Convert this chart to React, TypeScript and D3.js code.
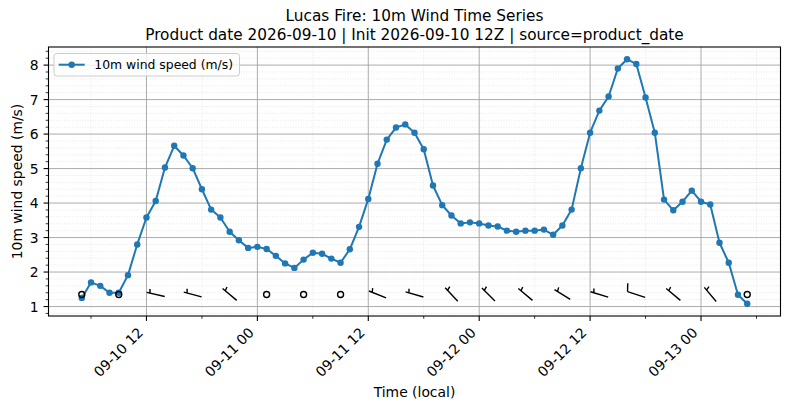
import React, { useEffect, useRef } from 'react';
import * as d3 from 'd3';

// hourly 10m wind speed (m/s), first value at 2026-09-10 05:00 local
const startTime = new Date(2026, 8, 10, 5);
const windSpeed = [
  1.25, 1.70, 1.60, 1.40, 1.40, 1.91, 2.80, 3.58, 4.06, 5.03, 5.66, 5.38, 5.01,
  4.40, 3.81, 3.58, 3.17, 2.92, 2.70, 2.73, 2.67, 2.47, 2.25, 2.12, 2.36, 2.56,
  2.53, 2.39, 2.27, 2.66, 3.31, 4.12, 5.14, 5.84, 6.19, 6.28, 6.04, 5.56, 4.51,
  3.94, 3.64, 3.41, 3.44, 3.41, 3.35, 3.32, 3.20, 3.17, 3.20, 3.20, 3.23, 3.08,
  3.35, 3.81, 5.01, 6.04, 6.68, 7.09, 7.90, 8.17, 8.03, 7.06, 6.04, 4.10, 3.79,
  4.04, 4.36, 4.04, 3.96, 2.85, 2.27, 1.34, 1.08,
];

// barbs every 4 hours from the first sample; direction wind comes from (deg)
const barbStep = 4;
const barbDirection = [
  280, 280, 283, 285, 310, 280, 280, 280, 292, 286, 317, 315, 310, 302, 287,
  288, 310, 320, 280,
];
const barbLevel = 1.35;

const yTicks = [1, 2, 3, 4, 5, 6, 7, 8];
const titleLines = [
  'Lucas Fire: 10m Wind Time Series',
  'Product date 2026-09-10 | Init 2026-09-10 12Z | source=product_date',
];
const seriesLabel = '10m wind speed (m/s)';
const xLabel = 'Time (local)';
const yLabel = '10m wind speed (m/s)';

const W = 790;
const H = 409;
const FONT = 'DejaVu Sans';
const BLUE = '#1f77b4';

const App: React.FC = () => {
  const svgRef = useRef<SVGSVGElement>(null);

  useEffect(() => {
    if (!svgRef.current) return;
    const svg = d3.select(svgRef.current);
    svg.selectAll('*').remove();

    const left = 48.5, right = 780.5, top = 47, bottom = 316;
    const times = windSpeed.map((_, i) => d3.timeHour.offset(startTime, i));
    const t0 = times[0], t1 = times[times.length - 1];
    const padMs = (+t1 - +t0) * 0.05;

    const x = d3.scaleTime()
      .domain([new Date(+t0 - padMs), new Date(+t1 + padMs)])
      .range([left, right]);

    const yMin = Math.min(d3.min(windSpeed) || 0, barbLevel);
    const yMax = d3.max(windSpeed) || 0;
    const yPad = (yMax - yMin) * 0.05;
    const y = d3.scaleLinear()
      .domain([yMin - yPad, yMax + yPad])
      .range([bottom, top]);

    const g = svg.append('g');

    // grid: minor dotted, major solid
    const majorT = d3.timeHour.every(12)!.range(x.domain()[0], x.domain()[1]);
    const minorT = d3.timeHour.every(6)!.range(x.domain()[0], x.domain()[1])
      .filter(d => d.getHours() % 12 !== 0);
    const minorY = d3.range(Math.ceil(y.domain()[0] / 0.2), Math.floor(y.domain()[1] / 0.2) + 1)
      .map(k => +(k * 0.2).toFixed(1))
      .filter(v => Math.abs(v - Math.round(v)) > 1e-6);

    g.selectAll('.minor-gy').data(minorY).enter().append('line')
      .attr('x1', left).attr('x2', right)
      .attr('y1', d => y(d)).attr('y2', d => y(d))
      .attr('stroke', '#d9d9d9').attr('stroke-width', 0.6).attr('stroke-dasharray', '1,1.6');
    g.selectAll('.minor-gx').data(minorT).enter().append('line')
      .attr('x1', d => x(d)).attr('x2', d => x(d))
      .attr('y1', top).attr('y2', bottom)
      .attr('stroke', '#d9d9d9').attr('stroke-width', 0.6).attr('stroke-dasharray', '1,1.6');
    g.selectAll('.major-gy').data(yTicks).enter().append('line')
      .attr('x1', left).attr('x2', right)
      .attr('y1', d => y(d)).attr('y2', d => y(d))
      .attr('stroke', '#a3a3a3').attr('stroke-width', 0.9);
    g.selectAll('.major-gx').data(majorT).enter().append('line')
      .attr('x1', d => x(d)).attr('x2', d => x(d))
      .attr('y1', top).attr('y2', bottom)
      .attr('stroke', '#a3a3a3').attr('stroke-width', 0.9);

    // speed line + markers
    const line = d3.line<number>()
      .x((_, i) => x(times[i]))
      .y(d => y(d));
    g.append('path')
      .datum(windSpeed)
      .attr('d', line)
      .attr('fill', 'none')
      .attr('stroke', BLUE)
      .attr('stroke-width', 2)
      .attr('stroke-linejoin', 'round');
    g.selectAll('.pt').data(windSpeed).enter().append('circle')
      .attr('cx', (_, i) => x(times[i]))
      .attr('cy', d => y(d))
      .attr('r', 3.2)
      .attr('fill', BLUE);

    // wind barbs (matplotlib style: half barb set in from the end, full barb at the end)
    const L = 18.5;
    barbDirection.forEach((dir, k) => {
      const idx = k * barbStep;
      const spd = windSpeed[idx];
      const cx = x(times[idx]);
      const cy = y(barbLevel);
      if (spd < 3) {
        g.append('circle').attr('cx', cx).attr('cy', cy).attr('r', 3)
          .attr('fill', 'none').attr('stroke', 'black').attr('stroke-width', 1.4);
        return;
      }
      const rad = (dir * Math.PI) / 180;
      const sx = Math.sin(rad), sy = -Math.cos(rad);
      const px = -sy, py = sx;
      const ex = cx + sx * L / 2, ey = cy + sy * L / 2;
      const bx = cx - sx * L / 2, by = cy - sy * L / 2;
      const full = spd >= 7.5;
      const inset = full ? 0 : L * 0.19;
      const hLen = full ? L * 0.43 : L * 0.22;
      const slant = full ? L * 0.125 : L * 0.0625;
      const ox = ex - sx * inset, oy = ey - sy * inset;
      const path = d3.path();
      path.moveTo(bx, by);
      path.lineTo(ex, ey);
      path.moveTo(ox, oy);
      path.lineTo(ox + px * hLen + sx * slant, oy + py * hLen + sy * slant);
      g.append('path').attr('d', path.toString())
        .attr('fill', 'none').attr('stroke', 'black').attr('stroke-width', 1.4)
        .attr('stroke-linecap', 'butt');
    });

    // spines
    g.append('rect')
      .attr('x', left).attr('y', top)
      .attr('width', right - left).attr('height', bottom - top)
      .attr('fill', 'none').attr('stroke', 'black').attr('stroke-width', 1.1);

    // y ticks
    g.selectAll('.ytk').data(yTicks).enter().append('line')
      .attr('x1', left - 4.9).attr('x2', left)
      .attr('y1', d => y(d)).attr('y2', d => y(d))
      .attr('stroke', 'black').attr('stroke-width', 1.1);
    g.selectAll('.ytkm').data(minorY).enter().append('line')
      .attr('x1', left - 2.8).attr('x2', left)
      .attr('y1', d => y(d)).attr('y2', d => y(d))
      .attr('stroke', 'black').attr('stroke-width', 0.8);
    g.selectAll('.ytl').data(yTicks).enter().append('text')
      .attr('x', left - 9.8).attr('y', d => y(d) + 5)
      .attr('text-anchor', 'end')
      .attr('font-family', FONT).attr('font-size', 13.9)
      .text(d => String(d));

    // x ticks
    const fmt = d3.timeFormat('%m-%d %H');
    g.selectAll('.xtk').data(majorT).enter().append('line')
      .attr('x1', d => x(d)).attr('x2', d => x(d))
      .attr('y1', bottom).attr('y2', bottom + 4.9)
      .attr('stroke', 'black').attr('stroke-width', 1.1);
    g.selectAll('.xtkm').data(minorT).enter().append('line')
      .attr('x1', d => x(d)).attr('x2', d => x(d))
      .attr('y1', bottom).attr('y2', bottom + 2.8)
      .attr('stroke', 'black').attr('stroke-width', 0.8);
    g.selectAll('.xtl').data(majorT).enter().append('text')
      .attr('transform', d => `translate(${x(d) - 2.5},${bottom + 17.5}) rotate(-45)`)
      .attr('text-anchor', 'end')
      .attr('font-family', FONT).attr('font-size', 13.9)
      .text(d => fmt(d));

    // axis labels
    g.append('text')
      .attr('x', (left + right) / 2).attr('y', 397)
      .attr('text-anchor', 'middle')
      .attr('font-family', FONT).attr('font-size', 13.9)
      .text(xLabel);
    g.append('text')
      .attr('transform', `translate(22,${(top + bottom) / 2}) rotate(-90)`)
      .attr('text-anchor', 'middle')
      .attr('font-family', FONT).attr('font-size', 13.9)
      .text(yLabel);

    // title
    g.selectAll('.ttl').data(titleLines).enter().append('text')
      .attr('x', (left + right) / 2)
      .attr('y', (_, i) => 21 + i * 19)
      .attr('text-anchor', 'middle')
      .attr('font-family', FONT).attr('font-size', 15.3)
      .text(d => d);

    // legend
    const lg = g.append('g');
    lg.append('rect')
      .attr('x', 54).attr('y', 53.5).attr('width', 185.5).attr('height', 22.5)
      .attr('rx', 2.8)
      .attr('fill', 'white').attr('fill-opacity', 0.8)
      .attr('stroke', '#cccccc').attr('stroke-width', 1);
    lg.append('line')
      .attr('x1', 58.7).attr('x2', 84.7).attr('y1', 64.7).attr('y2', 64.7)
      .attr('stroke', BLUE).attr('stroke-width', 2);
    lg.append('circle').attr('cx', 71.7).attr('cy', 64.7).attr('r', 3.2).attr('fill', BLUE);
    lg.append('text')
      .attr('x', 94.3).attr('y', 69.3)
      .attr('font-family', FONT).attr('font-size', 12.4)
      .text(seriesLabel);
  }, []);

  return (
    <svg
      ref={svgRef}
      width={W}
      height={H}
      style={{ position: 'absolute', left: 0, top: 0, background: 'white' }}
    />
  );
};

export default App;
